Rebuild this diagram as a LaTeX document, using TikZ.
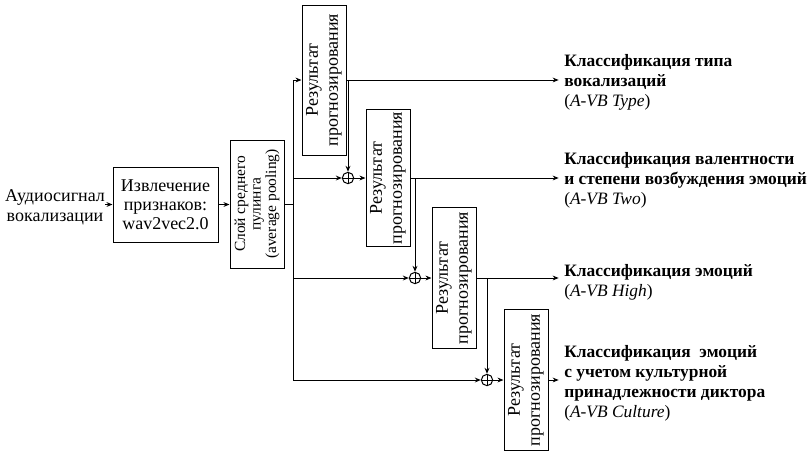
\documentclass[tikz,border=0pt]{standalone}
\usepackage{fontspec}
\setmainfont{Liberation Serif}
\usetikzlibrary{arrows.meta}
\begin{document}
\begin{tikzpicture}[x=0.75pt,y=-0.75pt,
  every node/.style={font=\fontsize{13.5pt}{15pt}\selectfont},
  box/.style={draw,line width=0.75pt,inner sep=0pt,align=center},
  pbox/.style={box,rotate=90,minimum height=33pt},
  arr/.style={-{Stealth[length=4.5pt,width=3.6pt]}},
  ln/.style={line width=0.75pt},
  sumnode/.style={circle,draw,line width=0.75pt,minimum size=8.5pt,inner sep=0pt,
    path picture={\draw[line width=0.6pt] (path picture bounding box.north) -- (path picture bounding box.south)
      (path picture bounding box.west) -- (path picture bounding box.east);}},
  lab/.style={anchor=west,align=left,inner sep=0pt,font=\fontsize{13.05pt}{15pt}\selectfont}]
\useasboundingbox (0,0) rectangle (811,451);

% input
\node[align=center,inner sep=0pt] (src) at (55,207) {Аудиосигнал\\вокализации};
\node[box,minimum width=78.75pt,minimum height=56.25pt,font=\fontsize{13.5pt}{14.25pt}\selectfont] (b1) at (165.5,204.5) {Извлечение\\признаков:\\wav2vec2.0};
\node[box,rotate=90,minimum width=96pt,minimum height=40.5pt,font=\fontsize{11.6pt}{11.6pt}\selectfont] (b2) at (257,204) {Слой среднего\\пулинга\\(average pooling)};

% prediction boxes (rotated: north = left side, south = right side)
\node[pbox,minimum width=112.5pt] (p1) at (324,80) {Результат\\прогнозирования};
\node[pbox,minimum width=102.75pt] (p2) at (388,178) {Результат\\прогнозирования};
\node[pbox,minimum width=105.75pt] (p3) at (454,278) {Результат\\прогнозирования};
\node[pbox,minimum width=105.75pt] (p4) at (526,380) {Результат\\прогнозирования};

% summation nodes
\node[sumnode] (c1) at (348,178) {};
\node[sumnode] (c2) at (415,278) {};
\node[sumnode] (c3) at (487,380) {};

% labels
\node[lab] (l1) at (564,82) {\textbf{Классификация типа}\\\textbf{вокализаций}\\(\textit{A-VB Type})};
\node[lab] (l2) at (564,180.5) {\textbf{Классификация валентности}\\\textbf{и степени возбуждения эмоций}\\(\textit{A-VB Two})};
\node[lab] (l3) at (564,282) {\textbf{Классификация эмоций}\\(\textit{A-VB High})};
\node[lab] (l4) at (564,383) {\textbf{Классификация\ \ эмоций}\\\textbf{с учетом культурной}\\\textbf{принадлежности диктора}\\(\textit{A-VB Culture})};

% connectors
\draw[ln,arr] (b1.west -| src.east) -- (b1.west);
\draw[ln,arr] (b1.east) -- (b1.east -| b2.north);
\coordinate (s) at (293,204);
\draw[ln] (b2.south) -- (s);
\draw[ln,arr] (s) |- (p1.north);
\draw[ln,arr] (s) |- (c3.west);
\draw[ln,arr] (c1.west -| s) -- (c1.west);
\draw[ln,arr] (c2.west -| s) -- (c2.west);

\draw[ln,arr] (p1.south) -- ([xshift=-4pt]l1.west |- p1.south);
\draw[ln,arr] (p1.south -| c1) -- (c1.north);
\draw[ln,arr] (c1.east) -- (p2.north);

\draw[ln,arr] (p2.south) -- ([xshift=-4pt]l2.west |- p2.south);
\draw[ln,arr] (p2.south -| c2) -- (c2.north);
\draw[ln,arr] (c2.east) -- (p3.north);

\draw[ln,arr] (p3.south) -- ([xshift=-4pt]l3.west |- p3.south);
\draw[ln,arr] (p3.south -| c3) -- (c3.north);
\draw[ln,arr] (c3.east) -- (p4.north);

\draw[ln,arr] (p4.south) -- ([xshift=-4pt]l4.west |- p4.south);
\end{tikzpicture}
\end{document}
